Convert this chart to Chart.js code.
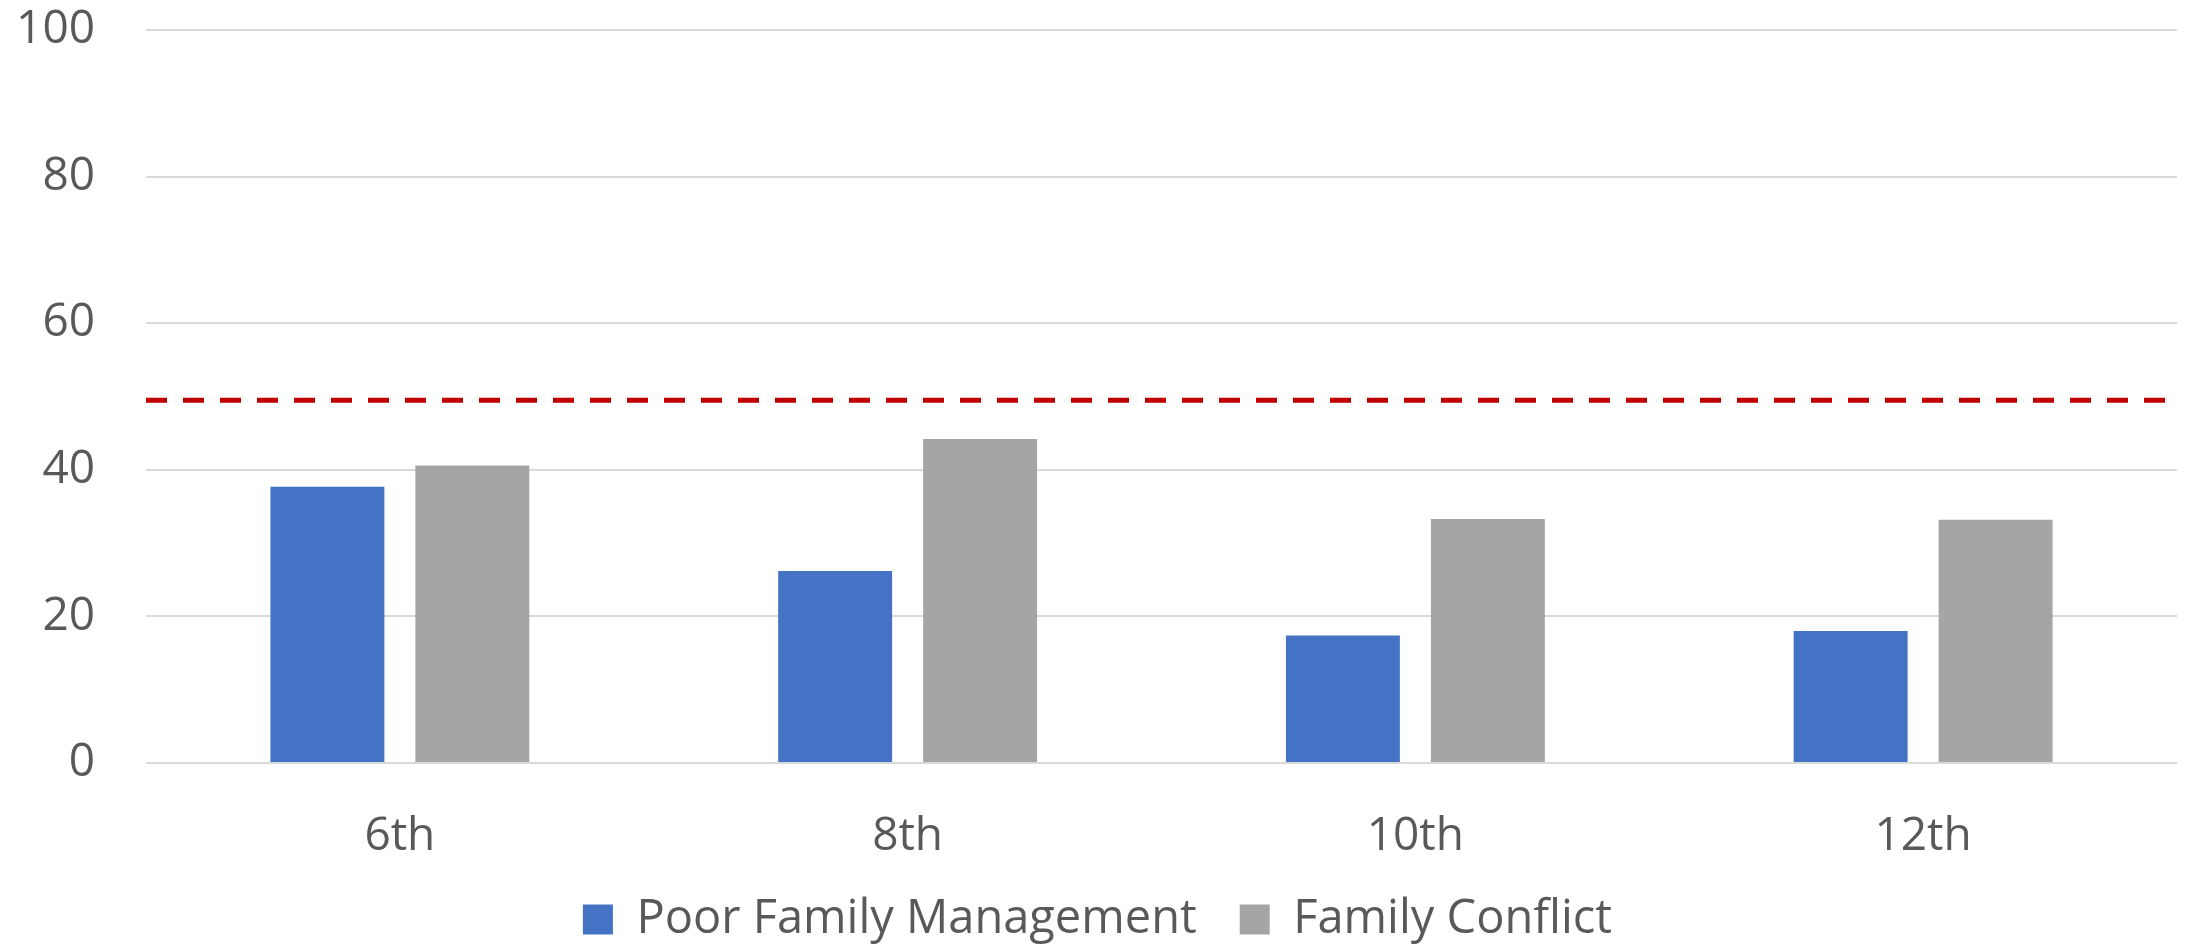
<!DOCTYPE html>
<html>
<head>
<meta charset="utf-8">
<script src="https://cdn.jsdelivr.net/npm/chart.js@4.4.0/dist/chart.umd.min.js"></script>
<style>
  html, body { margin: 0; padding: 0; background: #ffffff; }
  #wrap { width: 2188px; height: 945px; }
</style>
</head>
<body>
<div id="wrap"><canvas id="c" width="2188" height="945"></canvas></div>
<script>
// ---- data ----
const categories = ['6th', '8th', '10th', '12th'];
const poorFamilyManagement = [37.7, 26.2, 17.4, 18.0];
const familyConflict = [40.6, 44.2, 33.3, 33.2];
const threshold = 49.5;
const seriesNames = ['Poor Family Management', 'Family Conflict'];
const yMin = 0, yMax = 100, yStep = 20;

// category index axis bounds (half a category beyond first/last)
const xMin = -0.5, xMax = categories.length - 0.5;

// ---- styles ----
const BLUE = '#4472C4';
const GRAY = '#A5A5A5';
const RED = '#C00000';
const TEXT = '#595959';
const GRID = '#D9D9D9';
const FONT = "'Open Sans', 'Liberation Sans', sans-serif";

const toPoints = (vals) => vals.map((v, i) => ({ x: i, y: v }));

const ctx = document.getElementById('c').getContext('2d');
new Chart(ctx, {
  type: 'bar',
  data: {
    datasets: [
      {
        label: seriesNames[0],
        data: toPoints(poorFamilyManagement),
        backgroundColor: BLUE,
        borderWidth: 0,
        categoryPercentage: 0.571,
        barPercentage: 0.786,
        order: 2
      },
      {
        label: seriesNames[1],
        data: toPoints(familyConflict),
        backgroundColor: GRAY,
        borderWidth: 0,
        categoryPercentage: 0.571,
        barPercentage: 0.786,
        order: 2
      },
      {
        type: 'line',
        label: 'threshold',
        data: [{ x: xMin, y: threshold }, { x: xMax, y: threshold }],
        borderColor: RED,
        borderWidth: 5,
        borderDash: [21, 16],
        borderCapStyle: 'butt',
        pointRadius: 0,
        fill: false,
        order: 1
      }
    ]
  },
  options: {
    responsive: false,
    animation: false,
    layout: { padding: { top: 30, right: 11, bottom: 0, left: 18 } },
    scales: {
      x: {
        type: 'linear',
        min: xMin,
        max: xMax,
        offset: false,
        grid: { display: false, drawTicks: false, offset: false },
        border: { display: false },
        afterBuildTicks: (s) => { s.ticks = categories.map((c, i) => ({ value: i })); },
        ticks: {
          autoSkip: false,
          maxRotation: 0,
          color: TEXT,
          font: { family: FONT, size: 46, lineHeight: 1.0 },
          padding: 51,
          callback: (v) => categories[v]
        },
        afterFit: (s) => { s.height = 90; s.paddingLeft = 0; s.paddingRight = 0; }
      },
      y: {
        type: 'linear',
        min: yMin,
        max: yMax,
        offset: false,
        ticks: { stepSize: yStep, color: TEXT, font: { family: FONT, size: 46 }, padding: 51 },
        grid: { color: GRID, lineWidth: 2, drawTicks: false, offset: false },
        border: { display: false },
        afterFit: (s) => { s.width = 128; s.paddingTop = 0; s.paddingBottom = 0; }
      }
    },
    plugins: {
      legend: {
        position: 'bottom',
        maxHeight: 92,
        labels: {
          filter: (item) => item.datasetIndex < 2,
          boxWidth: 30,
          boxHeight: 30,
          padding: 43,
          color: TEXT,
          font: { family: FONT, size: 47 }
        }
      },
      tooltip: { enabled: false }
    }
  }
});
</script>
</body>
</html>
